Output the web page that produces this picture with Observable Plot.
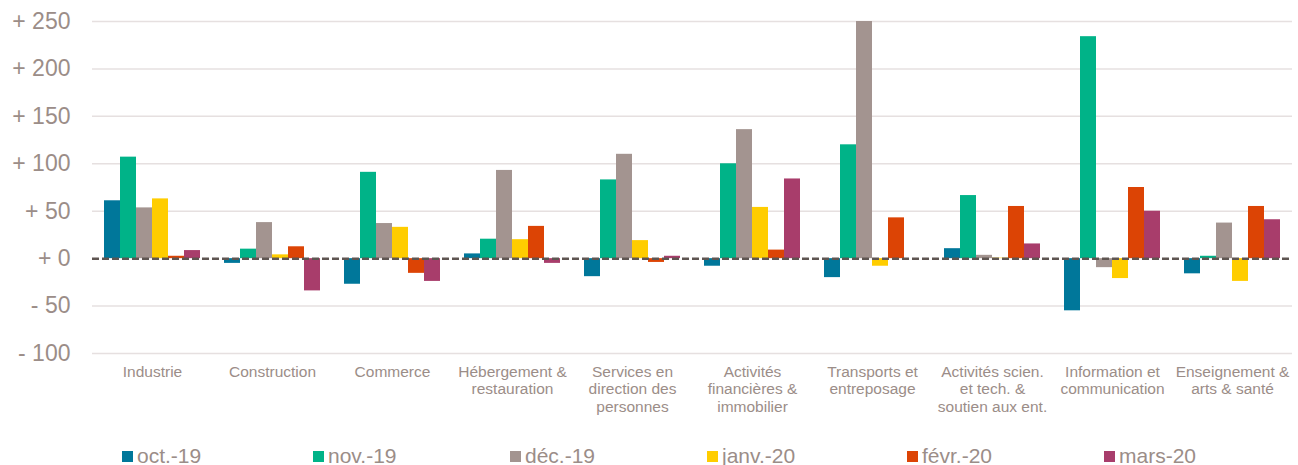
<!DOCTYPE html>
<html>
<head>
<meta charset="utf-8">
<script src="https://cdn.jsdelivr.net/npm/d3@7"></script>
<script src="https://cdn.jsdelivr.net/npm/@observablehq/plot@0.6"></script>
<style>
  html, body { margin: 0; padding: 0; background: #fff; }
  #wrap { width: 1298px; font-family: "Liberation Sans", Arial, sans-serif; color: #9b8d88; }
  #legend { position: relative; height: 25px; padding-top: 5px; }
  .item { position: absolute; top: 5px; height: 21px; font-size: 21px; line-height: 21px; white-space: nowrap; }
  .sw { position: absolute; top: 6px; left: 0; width: 11px; height: 11px; }
  .lab { position: absolute; left: 15px; top: 0; }
</style>
</head>
<body>
<div id="wrap"><div id="chart"></div><div id="legend"></div></div>
<script>
const categories = ["Industrie", "Construction", "Commerce", "Hébergement & restauration", "Services en direction des personnes", "Activités financières & immobilier", "Transports et entreposage", "Activités scien. et tech. & soutien aux ent.", "Information et communication", "Enseignement & arts & santé"];
const categoryLabels = ["Industrie", "Construction", "Commerce", "Hébergement &\nrestauration", "Services en\ndirection des\npersonnes", "Activités\nfinancières &\nimmobilier", "Transports et\nentreposage", "Activités scien.\net tech. &\nsoutien aux ent.", "Information et\ncommunication", "Enseignement &\narts & santé"];
const series = ["oct.-19", "nov.-19", "déc.-19", "janv.-20", "févr.-20", "mars-20"];
const colors = ["#00779a", "#00b388", "#a39490", "#ffcd00", "#dc4405", "#a83d6b"];

const oct19  = [61, -5, -27, 5, -19, -8, -20, 10.5, -55, -16];
const nov19  = [107, 10, 91, 20.5, 83, 100, 120, 66.5, 234, 2.5];
const dec19  = [53.5, 38, 37, 93, 110, 136, 250, 3.5, -9.5, 37.5];
const janv20 = [63, 4, 33, 20, 19, 54, -8, 0.5, -21, -24];
const fevr20 = [2.5, 12.5, -15.5, 34, -4, 9, 43, 55, 75, 55];
const mars20 = [8.5, -34, -24, -5, 2.5, 84, 0, 15.5, 50, 41];

const yTicks = [-100, -50, 0, 50, 100, 150, 200, 250];

const valuesBySeries = [oct19, nov19, dec19, janv20, fevr20, mars20];
const rows = [];
series.forEach((s, si) => {
  categories.forEach((c, ci) => rows.push({category: c, series: s, value: valuesBySeries[si][ci]}));
});
const labelOf = new Map(categories.map((c, i) => [c, categoryLabels[i]]));
const fmt = v => (v < 0 ? "- " : "+ ") + Math.abs(v);

const chart = Plot.plot({
  width: 1298,
  height: 440,
  marginLeft: 91,
  marginRight: 6,
  marginTop: 21,
  marginBottom: 87,
  style: {fontFamily: '"Liberation Sans", Arial, sans-serif', color: "#9b8d88", background: "white"},
  fx: {domain: categories, padding: 0, label: null},
  x: {domain: series, paddingInner: 0, paddingOuter: 0.75, axis: null},
  y: {domain: [-100, 250], label: null},
  color: {domain: series, range: colors},
  marks: [
    Plot.ruleY(yTicks.filter(d => d !== 0), {stroke: "#e6e0e0", strokeWidth: 1.5}),
    Plot.barY(rows, {fx: "category", x: "series", y: "value", fill: "series"}),
    Plot.ruleY([0], {stroke: "#5e5551", strokeWidth: 2.5, strokeDasharray: "7,3"}),
    Plot.axisY({ticks: yTicks, tickFormat: fmt, tickSize: 0, tickPadding: 22, fontSize: 23, label: null}),
    Plot.axisFx({anchor: "bottom", tickSize: 0, tickPadding: 11, fontSize: 15.5, lineHeight: 1.13, label: null, tickFormat: c => labelOf.get(c)})
  ]
});
document.getElementById("chart").appendChild(chart);

const legendLefts = [122, 313, 510, 707, 907, 1104];
const legend = document.getElementById("legend");
series.forEach((s, i) => {
  const item = document.createElement("div");
  item.className = "item";
  item.style.left = legendLefts[i] + "px";
  const sw = document.createElement("span");
  sw.className = "sw";
  sw.style.background = colors[i];
  const lab = document.createElement("span");
  lab.className = "lab";
  lab.textContent = s;
  item.appendChild(sw);
  item.appendChild(lab);
  legend.appendChild(item);
});
</script>
</body>
</html>
